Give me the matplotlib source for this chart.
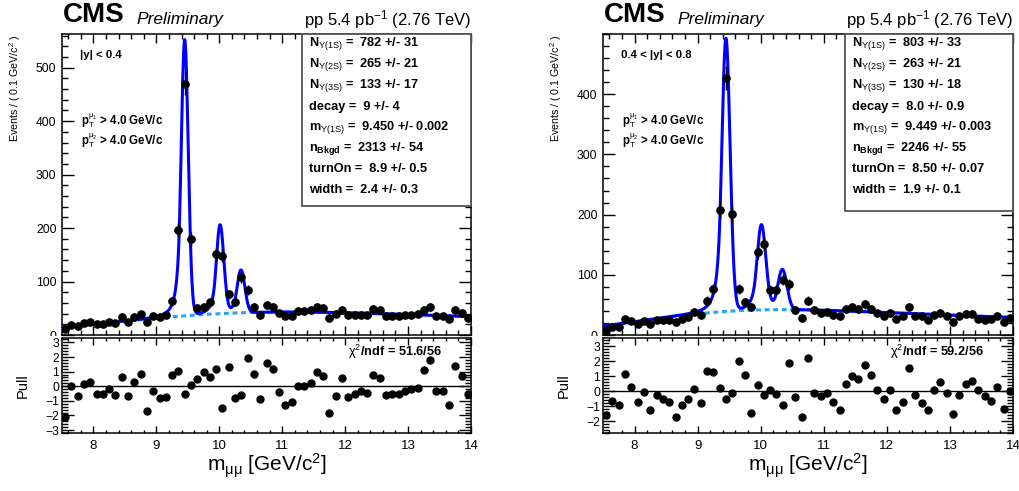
import math
import numpy as np
import matplotlib
matplotlib.use("Agg")
import matplotlib.pyplot as plt
from matplotlib.patches import Rectangle
from matplotlib.ticker import MultipleLocator
from matplotlib.transforms import Bbox, TransformedBbox

# ---------------- data ----------------
bin_width = 0.1
mass_lo, mass_hi = 7.5, 14.0
bin_centers = np.round(np.arange(mass_lo + bin_width / 2, mass_hi, bin_width), 3)

# |y| < 0.4
counts_y1 = [11, 19, 17, 22, 24, 21, 21, 25, 22, 33, 25, 34, 39, 24, 35, 34, 37, 63, 197, 470,
             179, 50, 52, 61, 151, 148, 76, 62, 108, 84, 52, 37, 56, 53, 42, 36, 36, 45, 45, 47,
             52, 50, 31, 39, 47, 37, 37, 37, 37, 49, 47, 36, 36, 36, 37, 37, 39, 47, 52, 36,
             36, 29, 47, 42, 31]
pulls_y1 = [-2.1, 0.0, -0.7, 0.14, 0.3, -0.5, -0.5, -0.2, -0.6, 0.6, -0.7, 0.3, 0.85, -1.7, -0.3,
            -0.8, -0.75, 0.8, 1.05, -0.55, 0.1, 0.5, 1.0, 0.65, 1.15, -1.5, 1.33, -0.8, -0.57, 1.9,
            0.87, -0.9, 1.6, 1.17, -0.37, -1.3, -1.1, 0.05, 0.05, 0.25, 1.0, 0.7, -1.85, -0.65, 0.55,
            -0.75, -0.5, -0.35, -0.45, 0.8, 0.55, -0.6, -0.5, -0.5, -0.3, -0.2, -0.15, 1.1, 1.8, -0.3,
            -0.3, -1.3, 1.4, 0.7, -0.5]

# 0.4 < |y| < 0.8
counts_y2 = [8, 14, 14, 26, 24, 18, 23, 18, 25, 25, 25, 21, 27, 30, 38, 33, 57, 76, 208, 427,
             201, 76, 54, 46, 138, 151, 75, 75, 92, 84, 42, 29, 57, 42, 37, 38, 33, 31, 43, 46,
             44, 51, 44, 36, 32, 36, 27, 32, 46, 32, 31, 25, 33, 37, 32, 22, 32, 35, 35, 27,
             25, 27, 32, 21, 29]
pulls_y2 = [-1.6, -0.65, -0.9, 1.15, 0.3, -0.7, -0.05, -1.25, -0.25, -0.5, -0.7, -1.7, -0.9, -0.55, 0.15,
            -0.8, 1.35, 1.25, 0.2, -0.5, -0.15, 2.0, 1.07, -1.45, 0.4, -0.25, 0.1, -0.2, -0.95, 1.9,
            -0.4, -1.7, 2.2, -0.1, -0.35, -0.15, -0.7, -1.25, 0.45, 1.0, 0.8, 1.75, 1.05, 0.1, -0.55,
            0.1, -1.25, -0.7, 1.55, -0.25, -0.8, -1.25, 0.1, 0.6, -0.1, -1.5, -0.25, 0.45, 0.65, 0.05,
            -0.35, -0.65, 0.25, -1.2, 0.0]

# fit results shown in the boxes
fit_y1 = dict(N1S=782, N2S=265, N3S=133, decay=9.0, m1S=9.450, nBkgd=2313, turnOn=8.9, width=2.4)
fit_y2 = dict(N1S=803, N2S=263, N3S=130, decay=8.0, m1S=9.449, nBkgd=2246, turnOn=8.50, width=1.9)
sigma1S_y1, sigma1S_y2 = 0.056, 0.0655       # estimated resolution
cb_alpha, cb_n = 1.4, 3.0                     # estimated tail shape
pdg_mass = [9.4603, 10.0233, 10.3552]

box_lines_y1 = [r"N$_{\Upsilon(1S)}$ =  782 +/- 31", r"N$_{\Upsilon(2S)}$ =  265 +/- 21",
                r"N$_{\Upsilon(3S)}$ =  133 +/- 17", "decay =  9 +/- 4",
                r"m$_{\Upsilon(1S)}$ =  9.450 +/- 0.002", r"n$_{\mathbf{Bkgd}}$ =  2313 +/- 54",
                "turnOn =  8.9 +/- 0.5", "width =  2.4 +/- 0.3"]
box_lines_y2 = [r"N$_{\Upsilon(1S)}$ =  803 +/- 33", r"N$_{\Upsilon(2S)}$ =  263 +/- 21",
                r"N$_{\Upsilon(3S)}$ =  130 +/- 18", "decay =  8.0 +/- 0.9",
                r"m$_{\Upsilon(1S)}$ =  9.449 +/- 0.003", r"n$_{\mathbf{Bkgd}}$ =  2246 +/- 55",
                "turnOn =  8.50 +/- 0.07", "width =  1.9 +/- 0.1"]
rap_labels = ["|y| < 0.4", "0.4 < |y| < 0.8"]
chi2_labels = [r"$\chi^{2}$/ndf = 51.6/56", r"$\chi^{2}$/ndf = 59.2/56"]
ylims_top = [(0, 563), (0, 500)]
yticks_top = [[0, 100, 200, 300, 400, 500], [0, 100, 200, 300, 400]]
ylims_pull = [(-3.2, 3.3), (-2.8, 3.55)]
yticks_pull = [[-3, -2, -1, 0, 1, 2, 3], [-2, -1, 0, 1, 2, 3]]
xticks = [8, 9, 10, 11, 12, 13, 14]

# ---------------- style ----------------
plt.rcParams['font.family'] = ['Liberation Sans', 'DejaVu Sans']
plt.rcParams['mathtext.fontset'] = 'custom'
plt.rcParams['mathtext.rm'] = 'Liberation Sans'
plt.rcParams['mathtext.it'] = 'Liberation Sans:italic'
plt.rcParams['mathtext.bf'] = 'Liberation Sans:bold'
plt.rcParams['mathtext.sf'] = 'Liberation Sans'
plt.rcParams['mathtext.default'] = 'rm'

W, H = 1019, 491
fig = plt.figure(figsize=(W / 100, H / 100), dpi=100)


def rect(x0, y0, x1, y1):
    return [x0 / W, 1 - y1 / H, (x1 - x0) / W, (y1 - y0) / H]


def fx(x):
    return x / W


def fy(y):
    return 1 - y / H


erf = np.vectorize(math.erf)


def bkg_shape(m, p):
    return np.exp(-m / p['decay']) * (erf((m - p['turnOn']) / p['width']) + 1) / 2


def cb_shape(m, m0, s):
    t = (m - m0) / s
    a, n = cb_alpha, cb_n
    A = (n / a) ** n * np.exp(-a * a / 2)
    B = n / a - a
    out = np.where(t > -a, np.exp(-t * t / 2), A * np.abs(B - t) ** (-n))
    C = n / a / (n - 1) * np.exp(-a * a / 2)
    D = math.sqrt(math.pi / 2) * (1 + math.erf(a / math.sqrt(2)))
    return out / (s * (C + D))


def model(m, p, s1):
    grid = np.linspace(mass_lo, mass_hi, 4001)
    norm = np.trapezoid(bkg_shape(grid, p), grid)
    bkg = p['nBkgd'] * bin_width * bkg_shape(m, p) / norm
    tot = bkg.copy()
    for N, mp in zip([p['N1S'], p['N2S'], p['N3S']], pdg_mass):
        m0 = p['m1S'] * mp / pdg_mass[0]
        tot = tot + N * bin_width * cb_shape(m, m0, s1 * mp / pdg_mass[0])
    return tot, bkg


panels = [
    dict(x0=62, x1=471, counts=counts_y1, pulls=pulls_y1, fit=fit_y1, s1=sigma1S_y1,
         box=box_lines_y1, box_x0=302, box_y1=206),
    dict(x0=603, x1=1013, counts=counts_y2, pulls=pulls_y2, fit=fit_y2, s1=sigma1S_y2,
         box=box_lines_y2, box_x0=845, box_y1=211),
]

mm = np.linspace(mass_lo, mass_hi, 2000)
upper_clip = TransformedBbox(Bbox.from_extents(0, fy(335.5), 1, 1), fig.transFigure)
upper_axes = []

for k, P in enumerate(panels):
    x0, x1 = P['x0'], P['x1']
    ax = fig.add_axes(rect(x0, 34, x1, 335))
    axp = fig.add_axes(rect(x0, 338, x1, 433))
    upper_axes.append(ax)

    tot, bkg = model(mm, P['fit'], P['s1'])
    ax.plot(mm, bkg, color='#2aa3f0', lw=2.2, ls=(0, (1.6, 1.2)), zorder=2)
    ax.plot(mm, tot, color='#0000ff', lw=2.2, zorder=3)
    cnt = np.array(P['counts'], dtype=float)
    ax.errorbar(bin_centers, cnt, yerr=np.sqrt(cnt), xerr=bin_width / 2, fmt='o', color='black',
                ms=5.2, lw=1.0, capsize=0, zorder=4)
    ax.set_xlim(mass_lo, mass_hi)
    ax.set_ylim(*ylims_top[k])
    ax.set_yticks(yticks_top[k])
    ax.yaxis.set_minor_locator(MultipleLocator(20))
    ax.xaxis.set_major_locator(MultipleLocator(1))
    ax.xaxis.set_minor_locator(MultipleLocator(0.2))
    ax.tick_params(axis='both', which='both', direction='in', top=True, right=True, width=1)
    ax.tick_params(axis='x', which='major', length=6.5, labelbottom=False)
    ax.tick_params(axis='x', which='minor', length=3.3)
    ax.tick_params(axis='y', which='major', length=8.5, labelsize=8.8, pad=4)
    ax.tick_params(axis='y', which='minor', length=4.3)
    for s in ax.spines.values():
        s.set_linewidth(1.1)
    ax.set_ylabel(r"Events / ( 0.1 GeV/c$^{2}$ )", fontsize=7.7, loc='top', labelpad=9)

    # fit-result box
    bx0, bx1, by0, by1 = P['box_x0'], x1, 34, P['box_y1']
    fig.patches.append(Rectangle((fx(bx0), fy(by1)), fx(bx1) - fx(bx0), fy(by0) - fy(by1),
                                 transform=fig.transFigure, facecolor='white',
                                 edgecolor='#555555', lw=1.3, zorder=5))
    for j, line in enumerate(P['box']):
        fig.text(fx(bx0 + 7), fy(44 + j * 20.9), line, fontsize=9.2, fontweight='bold',
                 va='center', ha='left', zorder=6)

    # annotations
    fig.text(fx(x0 + 18), fy(55), rap_labels[k], fontsize=8.2, fontweight='bold', va='center')
    fig.text(fx(x0 + 19), fy(121), r"p$_{T}^{\mu_{1}}$ > 4.0 GeV/c", fontsize=8.3,
             fontweight='bold', va='center')
    fig.text(fx(x0 + 19), fy(141), r"p$_{T}^{\mu_{2}}$ > 4.0 GeV/c", fontsize=8.3,
             fontweight='bold', va='center')

    fig.text(fx(x0 + 1), fy(22), "CMS", fontsize=20, fontweight='bold', va='baseline', ha='left')
    fig.text(fx(x0 + 74), fy(24), "Preliminary", fontsize=12.5, style='italic',
             va='baseline', ha='left')
    fig.text(fx(x1), fy(25), r"pp 5.4 pb$^{-1}$ (2.76 TeV)", fontsize=12,
             va='baseline', ha='right')

    # pull panel
    pl = np.array(P['pulls'])
    axp.axhline(0, color='black', lw=1.0, zorder=1)
    axp.plot(bin_centers, pl, 'o', color='black', ms=5.0, zorder=3)
    axp.set_xlim(mass_lo, mass_hi)
    axp.set_ylim(*ylims_pull[k])
    axp.set_yticks(yticks_pull[k])
    axp.set_xticks(xticks)
    axp.yaxis.set_minor_locator(MultipleLocator(0.2))
    axp.xaxis.set_minor_locator(MultipleLocator(0.2))
    axp.tick_params(axis='both', which='both', direction='in', top=True, right=True, width=1)
    axp.tick_params(axis='x', which='major', length=5, labelsize=9.5, pad=5)
    axp.tick_params(axis='x', which='minor', length=2.5)
    axp.tick_params(axis='y', which='major', length=8.5, labelsize=8.8, pad=2)
    axp.tick_params(axis='y', which='minor', length=4.3)
    for s in axp.spines.values():
        s.set_linewidth(1.1)
    axp.set_ylabel("Pull", fontsize=10.5, labelpad=4)
    axp.yaxis.set_label_coords(-32 / (x1 - x0), 0.5)
    axp.text(0.93, 0.95, chi2_labels[k], transform=axp.transAxes, ha='right', va='top',
             fontsize=9.2, fontweight='bold')
    fig.text(fx((x0 + x1) / 2), fy(466), r"m$_{\mathrm{\mu\mu}}$ [GeV/c$^{2}$]", fontsize=15,
             ha='center', va='center')

# the "0" label of the upper panels is cut by the pull panel, as in the original
fig.canvas.draw()
for ax in upper_axes:
    for t in ax.yaxis.get_major_ticks():
        t.label1.set_clip_box(upper_clip)
        t.label1.set_clip_on(True)

fig.savefig("out.png", dpi=100)
